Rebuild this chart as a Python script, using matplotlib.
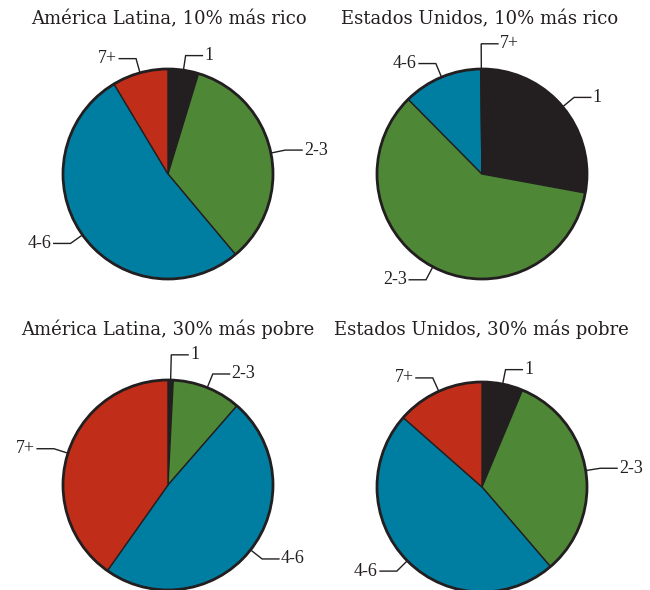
import numpy as np
import matplotlib
matplotlib.use("Agg")
import matplotlib.pyplot as plt
from matplotlib.patches import Circle

# household size groups, clockwise from 12 o'clock
GROUPS = ["1", "2-3", "4-6", "7+"]
COLORS = ["#231F20", "#4E8836", "#007EA1", "#C02E1A"]

TITLES = [
    "América Latina, 10% más rico",
    "Estados Unidos, 10% más rico",
    "América Latina, 30% más pobre",
    "Estados Unidos, 30% más pobre",
]

# share of households (%) in each size group
AL_RICH = [4.7, 34.2, 52.5, 8.6]
US_RICH = [27.9, 59.7, 12.2, 0.2]
AL_POOR = [0.8, 10.6, 48.4, 40.2]
US_POOR = [6.3, 32.4, 47.8, 13.5]

W, H = 650, 590
R = 105  # pie radius, px

# pie centres and title centres in pixel coords (origin top-left)
PANELS = [
    (AL_RICH, (168, 174), (169, 19)),
    (US_RICH, (482, 174), (480, 19)),
    (AL_POOR, (168, 485), (168, 329)),
    (US_POOR, (482, 487), (481, 329)),
]

LABEL_FONT = ["Liberation Serif", "DejaVu Serif"]
TITLE_FONT = ["DejaVu Serif"]


def add_pie(fig, values, center, title_pos, title):
    cx, cy = center
    half = 160
    ax = fig.add_axes([(cx - half) / W, 1 - (cy + half) / H, 2 * half / W, 2 * half / H])

    wedges, _ = ax.pie(
        values,
        colors=COLORS,
        startangle=90,
        counterclock=False,
        radius=1,
        wedgeprops=dict(edgecolor="#231F20", linewidth=1.0),
    )
    ax.add_patch(Circle((0, 0), 1, fill=False, edgecolor="#231F20", linewidth=2.0, zorder=5))

    # pie() sets its own limits, so fix the scale afterwards
    lim = half / R
    ax.set_xlim(-lim, lim)
    ax.set_ylim(-lim, lim)
    ax.set_aspect("equal")
    ax.axis("off")

    # leader lines: radial stub from the wedge middle, then a short horizontal run
    for w, v, label in zip(wedges, values, GROUPS):
        mid = np.deg2rad((w.theta1 + w.theta2) / 2)
        x0, y0 = np.cos(mid), np.sin(mid)
        # slivers at the top get a longer stub so the label clears its neighbour
        stub = 1.24 if v < 2 else 1.14
        x1, y1 = stub * x0, stub * y0
        side = 1 if x0 >= -0.05 else -1
        x2 = x1 + side * 0.16
        ax.plot([x0, x1, x2], [y0, y1, y1], color="#231F20", lw=1.0,
                solid_joinstyle="miter", clip_on=False, zorder=6)
        ax.text(x2 + side * 0.02, y1, label, ha="left" if side > 0 else "right",
                va="center", fontsize=13, family=LABEL_FONT, color="#231F20")

    tx, ty = title_pos
    fig.text(tx / W, 1 - ty / H, title, ha="center", va="center",
             fontsize=13, family=TITLE_FONT, color="#231F20")


fig = plt.figure(figsize=(W / 100, H / 100), dpi=100)
for (values, center, title_pos), title in zip(PANELS, TITLES):
    add_pie(fig, values, center, title_pos, title)

fig.savefig("out.png", dpi=100, facecolor="white")
